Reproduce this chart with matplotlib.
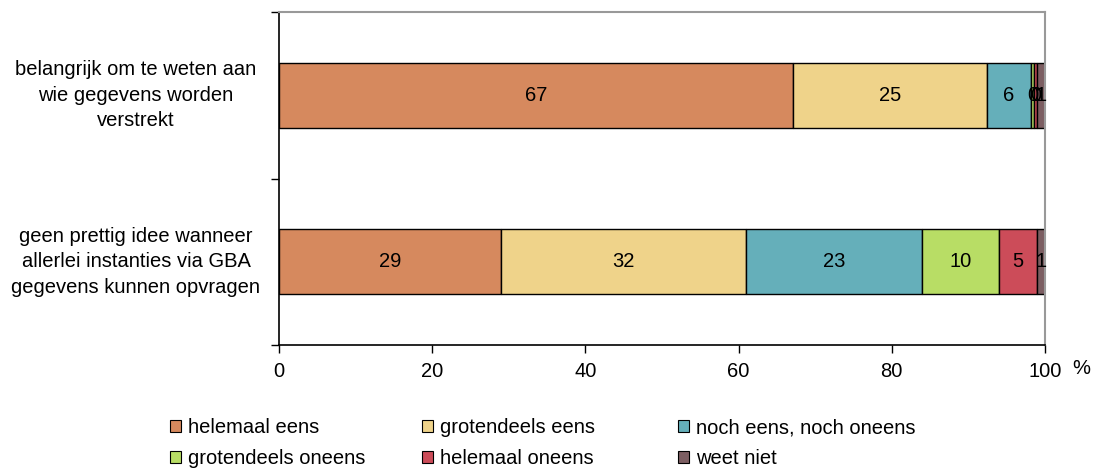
import matplotlib
matplotlib.use("Agg")
import matplotlib.pyplot as plt
from matplotlib.patches import Patch

plt.rcParams['font.family'] = ['Liberation Sans', 'DejaVu Sans']

categories = ["belangrijk om te weten aan\nwie gegevens worden\nverstrekt",
              "geen prettig idee wanneer\nallerlei instanties via GBA\ngegevens kunnen opvragen"]
series_names = ["helemaal eens", "grotendeels eens", "noch eens, noch oneens",
                "grotendeels oneens", "helemaal oneens", "weet niet"]
values_q1 = [67.1, 25.3, 5.8, 0.4, 0.3, 1.1]
values_q2 = [29, 32, 23, 10, 5, 1]
colors = ["#D6895E", "#EFD38A", "#65AFBA", "#B8DD65", "#CC4C59", "#7C5E62"]
xticks = [0, 20, 40, 60, 80, 100]

FS = 14.5

fig = plt.figure(figsize=(10.95, 4.70), dpi=100)
ax = fig.add_axes([279/1095, 1-345/470, (1045-279)/1095, (345-12)/470])

ypos = [1, 0]
data = list(zip(values_q1, values_q2))
left = [0, 0]
for i, name in enumerate(series_names):
    vals = data[i]
    bc = ax.barh(ypos, vals, left=left, height=0.39, color=colors[i],
                 edgecolor="black", linewidth=1.0, label=name)
    ax.bar_label(bc, labels=[f"{round(v):d}" for v in vals], label_type="center",
                 fontsize=FS, color="black")
    left = [l + v for l, v in zip(left, vals)]

ax.set_xlim(0, 100)
ax.set_ylim(-0.5, 1.5)
ax.set_xticks(xticks)
ax.set_xticklabels([str(t) for t in xticks], fontsize=FS)
ax.tick_params(axis="x", direction="out", length=6, width=1, pad=6)
ax.set_yticks([-0.5, 0.5, 1.5])
ax.set_yticklabels([])
ax.tick_params(axis="y", which="major", direction="out", length=6, width=1)
ax.set_yticks(ypos, minor=True)
ax.set_yticklabels(categories, minor=True, fontsize=FS, ha="center", va="center",
                   multialignment="center", linespacing=1.42)
ax.tick_params(axis="y", which="minor", length=0, pad=103)

for s in ["left", "bottom"]:
    ax.spines[s].set_color("black")
    ax.spines[s].set_linewidth(1.2)
for s in ["top", "right"]:
    ax.spines[s].set_color("#999999")
    ax.spines[s].set_linewidth(1.5)

fig.text(1081/1095, 1-369/470, "%", fontsize=FS, ha="center", va="center")

# legend: three columns placed at fixed positions, row-major order
col_x = [170, 422, 678]
for c in range(3):
    hs = [Patch(facecolor=colors[c], edgecolor="black", linewidth=0.8),
          Patch(facecolor=colors[c + 3], edgecolor="black", linewidth=0.8)]
    lb = [series_names[c], series_names[c + 3]]
    fig.legend(hs, lb, loc="upper left",
               bbox_to_anchor=(col_x[c]/1095, 1-418/470),
               frameon=False, fontsize=FS, handlelength=0.55, handleheight=0.55,
               handletextpad=0.35, labelspacing=0.6, borderpad=0, borderaxespad=0)

fig.savefig("out.png", dpi=100)
